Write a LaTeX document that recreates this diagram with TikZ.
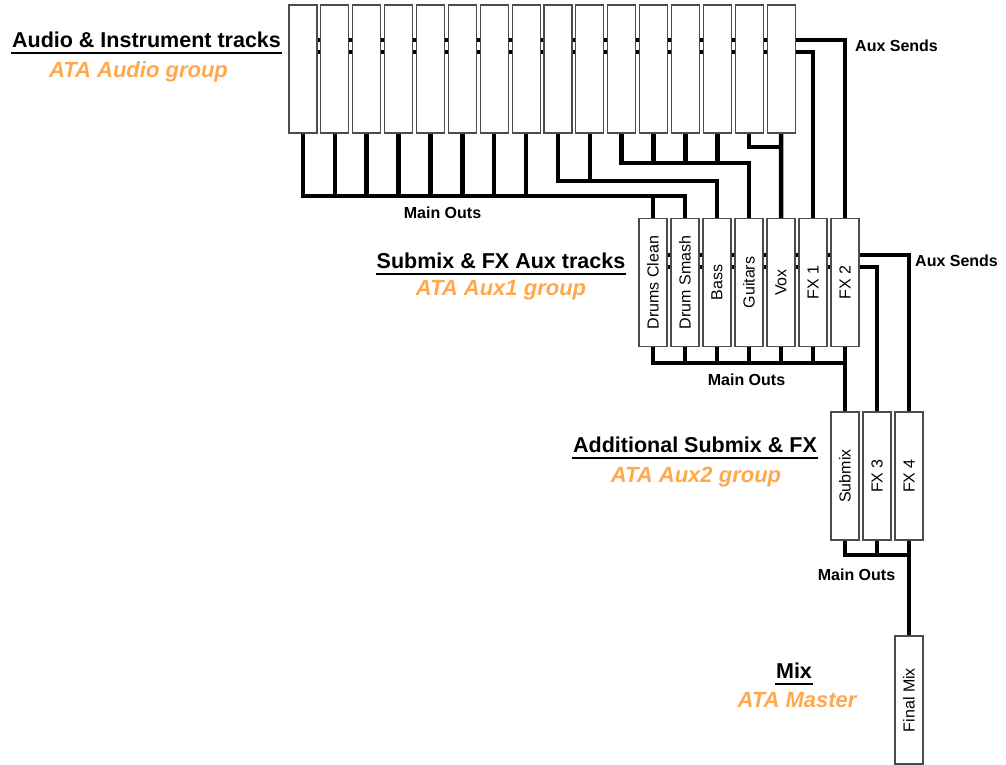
\documentclass[tikz,border=0pt]{standalone}
\usepackage{fontspec}
\setmainfont{Liberation Sans}
\usetikzlibrary{backgrounds}
\definecolor{ataorange}{RGB}{255,168,76}
\newcommand
    {\headfont}
    {%
        \fontsize{21.5}{24}\selectfont\bfseries%
    }
\newcommand
    {\chanfont}
    {%
        \fontsize{16}{18}\selectfont%
    }

\begin{document}
\begin{tikzpicture}[x=1pt,y=-1pt,
    track/.style={draw=black!70,line width=1.1pt,fill=white,minimum width=28pt,minimum height=128pt,inner sep=0pt},
    chan/.style={track,label={[rotate=90,font=\chanfont,inner sep=0pt]center:#1}},
    bus/.style={line width=4.5pt},
    heading/.style={font=\headfont,inner sep=0pt,anchor=base},
    group/.style={font=\fontsize{22}{26}\selectfont\bfseries\itshape,text=ataorange,inner sep=0pt,anchor=base},
    busnote/.style={font=\fontsize{16}{18}\selectfont\bfseries,inner sep=0pt,anchor=base},
    underline/.style={line width=2.4pt}]
        \useasboundingbox (0,0) rectangle (1006,764);

        % 1. Audio & Instrument tracks
        \foreach \i in {1,...,16}
            \node (t\i) at ({303+31.87*(\i-1)},69) [track] {};

        % 2. Submix & FX Aux tracks
        \node (dc)   at (653,282.5) [chan=Drums Clean] {};
        \node (ds)   at (685,282.5) [chan=Drum Smash] {};
        \node (bass) at (717,282.5) [chan=Bass] {};
        \node (gtr)  at (749,282.5) [chan=Guitars] {};
        \node (vox)  at (781,282.5) [chan=Vox] {};
        \node (fx1)  at (813,282.5) [chan=FX 1] {};
        \node (fx2)  at (845,282.5) [chan=FX 2] {};

        % 3. Additional Submix & FX
        \node (sub) at (845,476) [chan=Submix] {};
        \node (fx3) at (877,476) [chan=FX 3] {};
        \node (fx4) at (909,476) [chan=FX 4] {};

        % 4. Mix
        \node (fin) at (909,700) [chan=Final Mix] {};

        % Bus heights
        \coordinate (auxA) at (0,40);
        \coordinate (auxB) at (0,52);
        \coordinate (voxY) at (0,147);
        \coordinate (gtrY) at (0,163);
        \coordinate (bassY) at (0,181);
        \coordinate (mainA) at (0,196);
        \coordinate (auxC) at (0,255);
        \coordinate (auxD) at (0,267);
        \coordinate (mainB) at (0,363);
        \coordinate (mainC) at (0,555);

        % 5. Wiring, behind the tracks
        \begin{scope}[on background layer]
            % Aux sends of the tracks into FX 1 and FX 2
            \draw[bus] (t1 |- auxA) -- (fx2 |- auxA) -- (fx2.north);
            \draw[bus] (t1 |- auxB) -- (fx1 |- auxB) -- (fx1.north);

            % Main outs: drums into both drum submixes
            \draw[bus] (t1.south) -- (t1 |- mainA) -- (ds |- mainA) -- (ds.north);
            \foreach \i in {2,...,8}
                \draw[bus] (t\i.south) -- (t\i |- mainA);
            \draw[bus] (dc |- mainA) -- (dc.north);

            % Bass, guitars and vox
            \draw[bus] (t9.south) -- (t9 |- bassY) -- (bass |- bassY) -- (bass.north);
            \draw[bus] (t10.south) -- (t10 |- bassY);
            \draw[bus] (t11.south) -- (t11 |- gtrY) -- (gtr |- gtrY) -- (gtr.north);
            \foreach \i in {12,13,14}
                \draw[bus] (t\i.south) -- (t\i |- gtrY);
            \draw[bus] (t15.south) -- (t15 |- voxY) -- (t16 |- voxY);
            \draw[bus] (t16.south) -- (vox.north);

            % Aux sends of the submixes into FX 3 and FX 4
            \draw[bus] (dc |- auxC) -- (fx4 |- auxC) -- (fx4.north);
            \draw[bus] (dc |- auxD) -- (fx3 |- auxD) -- (fx3.north);

            % Main outs of the submixes
            \draw[bus] (dc.south) -- (dc |- mainB) -- (fx2 |- mainB);
            \foreach \n in {ds,bass,gtr,vox,fx1}
                \draw[bus] (\n.south) -- (\n |- mainB);
            \draw[bus] (fx2.south) -- (sub.north);

            % Main outs into the final mix
            \draw[bus] (sub.south) -- (sub |- mainC) -- (fx4 |- mainC);
            \draw[bus] (fx3.south) -- (fx3 |- mainC);
            \draw[bus] (fx4.south) -- (fin.north);
        \end{scope}

        % 6. Bus notes
        \node (as1) at (855,51) [busnote,anchor=base west] {Aux Sends};
        \node (mo1) at (442.5,218) [busnote] {Main Outs};
        \node (as2) at (915,266) [busnote,anchor=base west] {Aux Sends};
        \node (mo2) at (746.5,385) [busnote] {Main Outs};
        \node (mo3) at (856.5,580) [busnote] {Main Outs};

        % 7. Group headings
        \node (h1) at (146.5,47) [heading] {Audio \& Instrument tracks};
        \node (g1) at (138.5,77) [group] {ATA Audio group};
        \node (h2) at (501,268) [heading] {Submix \& FX Aux tracks};
        \node (g2) at (501,295) [group] {ATA Aux1 group};
        \node (h3) at (695,452) [heading] {Additional Submix \& FX};
        \node (g3) at (696,482) [group] {ATA Aux2 group};
        \node (h4) at (794,678) [heading] {Mix};
        \node (g4) at (797,707) [group] {ATA Master};

        \foreach \h in {h1,h2,h3,h4}
            \draw[underline] ([shift={(-1pt,-6pt)}]\h.base west) -- ([shift={(1pt,-6pt)}]\h.base east);
\end{tikzpicture}
\end{document}
